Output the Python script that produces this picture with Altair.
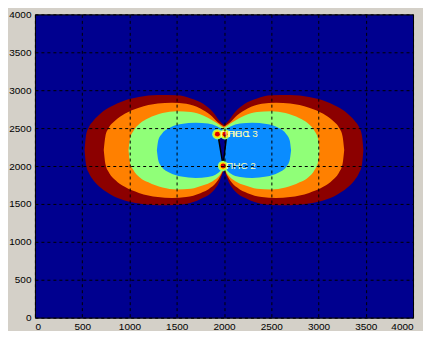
import altair as alt
import pandas as pd

ticks = [0, 500, 1000, 1500, 2000, 2500, 3000, 3500, 4000]

# Level boundaries (x, upper y, lower y) for left and right lobes
red_xl = [525, 540, 570, 620, 700, 800, 950, 1100, 1300, 1500, 1650, 1780, 1880, 1950, 2000]
red_xr = [3475, 3460, 3430, 3380, 3300, 3200, 3050, 2900, 2700, 2500, 2350, 2220, 2120, 2050, 2000]
red_top = [2210, 2400, 2510, 2600, 2700, 2780, 2865, 2910, 2938, 2932, 2890, 2820, 2715, 2600, 2540]
red_bot = [2210, 2020, 1910, 1810, 1710, 1625, 1545, 1505, 1483, 1487, 1515, 1580, 1665, 1790, 1960]

org_xl = [728, 745, 780, 850, 950, 1100, 1300, 1450, 1600, 1750, 1860, 1940, 2000]
org_xr = [3272, 3255, 3220, 3150, 3050, 2900, 2700, 2550, 2400, 2250, 2140, 2060, 2000]
org_top = [2210, 2390, 2500, 2600, 2690, 2770, 2825, 2836, 2822, 2760, 2670, 2570, 2520]
org_bot = [2210, 2030, 1920, 1815, 1725, 1645, 1590, 1578, 1590, 1640, 1715, 1820, 1965]

grn_xl = [990, 1005, 1040, 1110, 1200, 1350, 1500, 1650, 1780, 1880, 1950, 2000]
grn_xr = [3010, 2995, 2960, 2890, 2800, 2650, 2500, 2350, 2220, 2120, 2050, 2000]
grn_top = [2207, 2360, 2460, 2560, 2630, 2700, 2722, 2712, 2665, 2600, 2545, 2500]
grn_bot = [2207, 2050, 1950, 1850, 1785, 1715, 1690, 1700, 1745, 1800, 1870, 1975]

blu_xl = [1290, 1305, 1340, 1420, 1550, 1700, 1830, 1930, 2000]
blu_xr = [2710, 2695, 2660, 2580, 2450, 2300, 2170, 2070, 2000]
blu_top = [2207, 2340, 2420, 2500, 2553, 2571, 2560, 2520, 2470]
blu_bot = [2207, 2075, 1990, 1915, 1862, 1843, 1855, 1900, 1990]

# Narrow gap between the sources
v_x = [1935, 1990, 2030]
v_top = [2420, 2420, 2420]
v_bot = [2420, 2010, 2420]

# Sources
src_x = [1930, 2010, 1990]
src_y = [2420, 2420, 2000]
src_lab = ["ПНС 1", "ПНС 3", "ПНС 2"]

levels = [
    ("red", "#8c0000", red_xl, red_xr, red_top, red_bot),
    ("orange", "#ff8000", org_xl, org_xr, org_top, org_bot),
    ("green", "#90ff78", grn_xl, grn_xr, grn_top, grn_bot),
    ("blue", "#0a8cff", blu_xl, blu_xr, blu_top, blu_bot),
]

xs = alt.Scale(domain=[0, 4000], nice=False, zero=False)
ys = alt.Scale(domain=[0, 4000], nice=False, zero=False)


def ax():
    return alt.Axis(values=ticks, format="d", title=None, grid=True, gridColor="#000000",
                    gridDash=[3, 3], gridOpacity=1, gridWidth=1, labelFontSize=10,
                    labelColor="#000000", labelFont="Liberation Sans", tickSize=0,
                    labelPadding=4, domain=False, zindex=1)


def X(f):
    return alt.X(f, scale=xs, axis=ax())


def Y(f):
    return alt.Y(f, scale=ys, axis=ax(), stack=None)


layers = []
for name, col, xl, xr, top, bot in levels:
    rows = []
    for i in range(len(xl)):
        rows.append({"lobe": "L", "x": xl[i], "top": top[i], "bot": bot[i]})
        rows.append({"lobe": "R", "x": xr[i], "top": top[i], "bot": bot[i]})
    df = pd.DataFrame(rows)
    layers.append(alt.Chart(df).mark_area(color=col, interpolate="monotone",
                                          orient="vertical", clip=True).encode(
        x=X("x:Q"), y=Y("top:Q"), y2="bot:Q", detail="lobe:N"))

vdf = pd.DataFrame({"x": v_x, "top": v_top, "bot": v_bot})
layers.append(alt.Chart(vdf).mark_area(color="#00008f", orient="vertical").encode(
    x=X("x:Q"), y=Y("top:Q"), y2="bot:Q"))
vline = pd.DataFrame({"x": v_x, "y": v_bot, "o": [0, 1, 2]})
layers.append(alt.Chart(vline).mark_line(color="#000000", strokeWidth=1.5).encode(
    x=X("x:Q"), y=Y("y:Q"), order="o:Q"))

sdf = pd.DataFrame({"x": src_x, "y": src_y, "lab": src_lab})
for size, col in [(110, "#90ff78"), (60, "#ffe000"), (24, "#e00000")]:
    layers.append(alt.Chart(sdf).mark_circle(size=size, color=col, opacity=1).encode(
        x=X("x:Q"), y=Y("y:Q")))
layers.append(alt.Chart(sdf).mark_text(align="left", baseline="middle", dx=3,
                                       fontSize=10, font="Liberation Sans",
                                       color="#ffffb0").encode(
    x=X("x:Q"), y=Y("y:Q"), text="lab:N"))

chart = alt.layer(*layers).properties(
    width=379, height=304,
    background="#d4d0c8",
    autosize=alt.AutoSizeParams(type="none"),
    padding={"left": 27, "top": 6, "right": 10, "bottom": 13},
).configure_view(fill="#00008f", stroke="#000000", strokeWidth=1)

chart.save("out.html", embed_options={"renderer": "svg", "actions": False})
